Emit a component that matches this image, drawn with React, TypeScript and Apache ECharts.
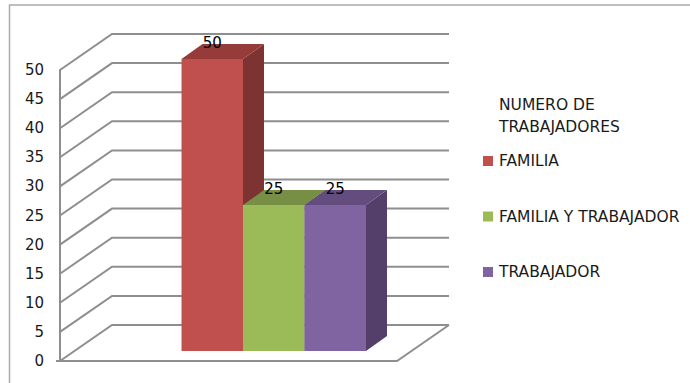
import React, { useEffect, useRef } from "react";
import * as echarts from "echarts";

// Workforce composition shown as a pseudo-3D column chart.
const categories = ["FAMILIA", "FAMILIA Y TRABAJADOR", "TRABAJADOR"];
const values = [50, 25, 25];
const frontColors = ["#C0504D", "#9BBB59", "#8064A2"];
const topColors = ["#953C3A", "#778F45", "#634D7E"];
const sideColors = ["#7D3331", "#65793A", "#533F69"];
const yTicks = [0, 5, 10, 15, 20, 25, 30, 35, 40, 45, 50];
const legendTitle = "NUMERO DE\nTRABAJADORES";

const GRID_LINE = "#8E8E8E";
const WALL_DX = 52;
const WALL_DY = -36;
const BAR_DX = 21;
const BAR_DY = -15;
const LABEL_FONT = "'DejaVu Sans', sans-serif";
const LEGEND_FONT = "'DejaVu Sans', sans-serif";

// Floor and back-wall lines, projected from the value axis.
function renderWalls(params: any, api: any) {
  const tick = api.value(0);
  const rect = params.coordSys;
  const y = api.coord([0, tick])[1];
  const left = rect.x;
  const right = rect.x + rect.width;
  const shape = (points: number[][]) => ({
    type: "polyline",
    shape: { points },
    style: { stroke: GRID_LINE, lineWidth: 2, fill: "none" },
  });
  const children: any[] = [
    shape([
      [left, y],
      [left + WALL_DX, y + WALL_DY],
      [right + WALL_DX, y + WALL_DY],
    ]),
  ];
  if (tick === 0) {
    children.push(
      shape([
        [left - 4, y],
        [right, y],
        [right + WALL_DX, y + WALL_DY],
      ]),
    );
  }
  return { type: "group", children };
}

// One column: front face, top, right side and its value label.
function renderColumn(index: number) {
  return (_params: any, api: any) => {
    const [cx, top] = api.coord([api.value(0), api.value(1)]);
    const bottom = api.coord([api.value(0), 0])[1];
    const half = api.size([1, 0])[0] / 2;
    const l = cx - half;
    const r = cx + half;
    const poly = (points: number[][], fill: string) => ({
      type: "polygon",
      shape: { points },
      style: { fill },
    });
    return {
      type: "group",
      children: [
        poly(
          [
            [r, top],
            [r + BAR_DX, top + BAR_DY],
            [r + BAR_DX, bottom + BAR_DY],
            [r, bottom],
          ],
          sideColors[index],
        ),
        poly(
          [
            [l, top],
            [l + BAR_DX, top + BAR_DY],
            [r + BAR_DX, top + BAR_DY],
            [r, top],
          ],
          topColors[index],
        ),
        poly(
          [
            [l, top],
            [r, top],
            [r, bottom],
            [l, bottom],
          ],
          frontColors[index],
        ),
        {
          type: "text",
          x: cx,
          y: top - 16,
          style: {
            text: String(api.value(1)),
            fill: "#000",
            font: `15px ${LABEL_FONT}`,
            align: "center",
            verticalAlign: "middle",
          },
        },
      ],
    };
  };
}

export default function App() {
  const ref = useRef<HTMLDivElement>(null);

  useEffect(() => {
    document.body.style.margin = "0";
    const chart = echarts.init(ref.current!, undefined, { renderer: "svg" });
    chart.setOption({
      animation: false,
      backgroundColor: "#fff",
      title: {
        text: legendTitle,
        left: 494,
        top: 89,
        textStyle: {
          fontFamily: LEGEND_FONT,
          fontSize: 15.5,
          fontWeight: "normal",
          color: "#1a1a1a",
          lineHeight: 22,
        },
      },
      legend: {
        orient: "vertical",
        left: 478,
        top: 148,
        icon: "rect",
        itemWidth: 10,
        itemHeight: 10,
        itemGap: 39.5,
        selectedMode: false,
        data: categories,
        textStyle: {
          fontFamily: LEGEND_FONT,
          fontSize: 15.5,
          color: "#1a1a1a",
          padding: [0, 0, 0, 1],
        },
      },
      grid: [
        // Front plane of the chart box, which carries the value axis.
        { left: 60, top: 70, width: 337, height: 291 },
        // Plane of the column faces, set back from the front plane.
        { left: 181.5, top: 59, width: 184.5, height: 292 },
      ],
      xAxis: [
        { type: "value", gridIndex: 0, min: 0, max: 1, show: false },
        { type: "category", gridIndex: 1, data: categories, show: false },
      ],
      yAxis: [
        {
          type: "value",
          gridIndex: 0,
          min: 0,
          max: 50,
          interval: 5,
          axisLine: { show: true, lineStyle: { color: GRID_LINE, width: 2 } },
          axisTick: { show: false },
          splitLine: { show: false },
          axisLabel: {
            fontFamily: LABEL_FONT,
            fontSize: 15,
            color: "#1a1a1a",
            margin: 16,
            padding: [0, 0, 6, 0],
          },
        },
        { type: "value", gridIndex: 1, min: 0, max: 50, show: false },
      ],
      graphic: [
        {
          type: "polyline",
          shape: {
            points: [
              [9.5, 383],
              [9.5, 5],
              [690, 5],
            ],
          },
          style: { stroke: "#ABABAB", lineWidth: 1.5, fill: "none" },
          silent: true,
        },
      ],
      series: [
        {
          type: "custom",
          name: "walls",
          xAxisIndex: 0,
          yAxisIndex: 0,
          renderItem: renderWalls,
          data: yTicks.map((t) => [t]),
          encode: { y: 0 },
          silent: true,
          z: 1,
        },
        ...categories.map((name, i) => ({
          type: "custom",
          name,
          xAxisIndex: 1,
          yAxisIndex: 1,
          renderItem: renderColumn(i),
          itemStyle: { color: frontColors[i] },
          data: [[name, values[i]]],
          encode: { x: 0, y: 1 },
          z: 3 + i,
        })),
      ],
    });
    return () => chart.dispose();
  }, []);

  return <div ref={ref} style={{ width: 690, height: 383 }} />;
}
